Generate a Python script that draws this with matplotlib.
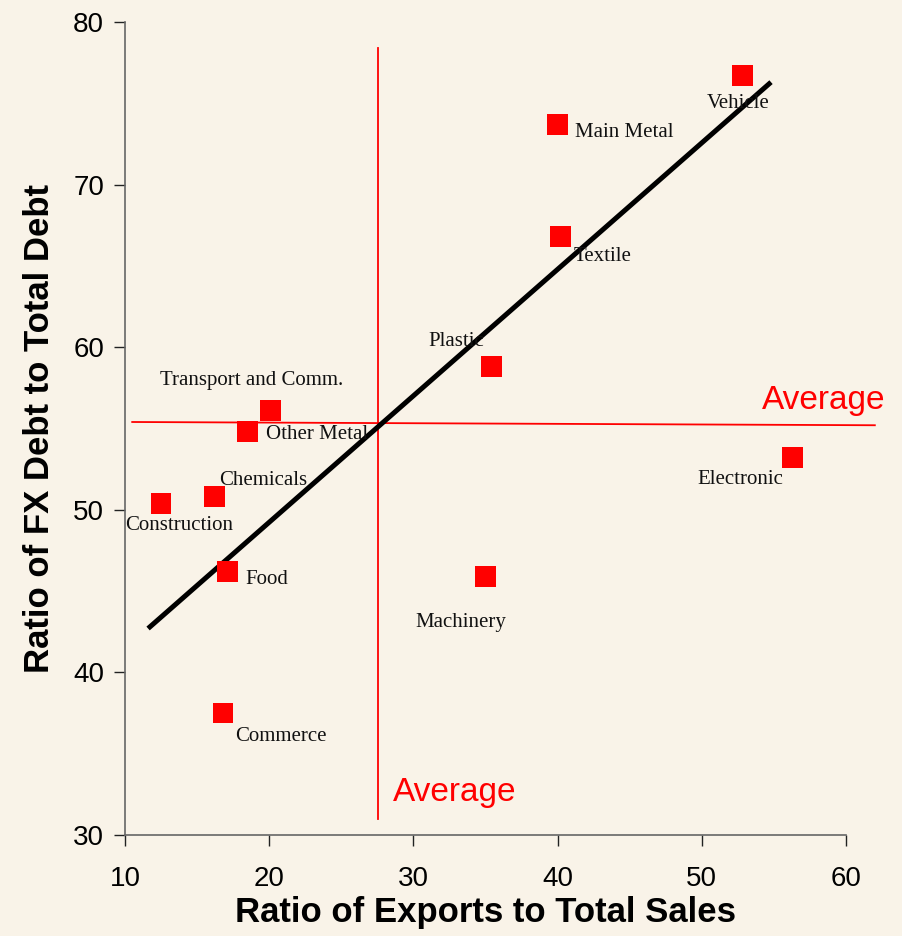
import matplotlib
matplotlib.use("Agg")
from matplotlib import pyplot as plt

# sector data
sectors = ['Vehicle', 'Main Metal', 'Textile', 'Plastic', 'Transport and Comm.',
           'Other Metal', 'Electronic', 'Chemicals', 'Construction', 'Food',
           'Machinery', 'Commerce']
export_ratio = [52.8, 40.0, 40.2, 35.4, 20.1, 18.5, 56.3, 16.2, 12.5, 17.1, 35.0, 16.8]
fx_debt_ratio = [76.7, 73.7, 66.8, 58.8, 56.1, 54.8, 53.2, 50.8, 50.4, 46.2, 45.9, 37.5]

# trend line end points
trend_x = [11.6, 54.8]
trend_y = [42.7, 76.3]

# averages
avg_h_x = [10.5, 62.0]
avg_h_y = [55.4, 55.2]
avg_v_x = [27.55, 27.55]
avg_v_y = [31.0, 78.4]

# label offsets in pixels (dx right, dy down) from each marker
label_offsets = [(-35, 28), (17, 8), (13, 20), (-63, -25), (-111, -30), (18, 3),
                 (-95, 22), (5, -16), (-36, 22), (18, 8), (-70, 46), (12, 23)]

sans = ['Liberation Sans', 'DejaVu Sans']

bg = '#f9f3e8'
fig = plt.figure(figsize=(9.02, 9.36), dpi=100, facecolor=bg)
ax = fig.add_axes([125/902, 101/936, 721/902, 813/936], facecolor=bg)

ax.plot(avg_h_x, avg_h_y, color='red', lw=1.3, clip_on=False, zorder=2)
ax.plot(avg_v_x, avg_v_y, color='red', lw=1.3, clip_on=False, zorder=2)
ax.plot(trend_x, trend_y, color='black', lw=3.6, solid_capstyle='butt', zorder=3)
ax.scatter(export_ratio, fx_debt_ratio, marker='s', s=225, color='red',
           edgecolors='none', zorder=4)

px = 72 / 100
for name, x, y, (dx, dy) in zip(sectors, export_ratio, fx_debt_ratio, label_offsets):
    ax.annotate(name, (x, y), xytext=(dx * px, -dy * px), textcoords='offset points',
                ha='left', va='center', fontsize=15, family='Liberation Serif',
                color='#111111', zorder=5)

ax.text(54.2, 56.75, 'Average', color='red', fontsize=24, family=sans, va='center', ha='left')
ax.text(28.6, 32.6, 'Average', color='red', fontsize=24, family=sans, va='center', ha='left')

ax.set_xlim(10, 60)
ax.set_ylim(30, 80)
ax.set_xticks([10, 20, 30, 40, 50, 60])
ax.set_yticks([30, 40, 50, 60, 70, 80])
for s in ['top', 'right']:
    ax.spines[s].set_visible(False)
for s in ['left', 'bottom']:
    ax.spines[s].set_color('#666666')
    ax.spines[s].set_linewidth(1.2)
ax.tick_params(direction='out', length=8, width=1.0, color='#222222', pad=7)
ax.tick_params(axis='x', pad=14)
for lab in ax.get_xticklabels() + ax.get_yticklabels():
    lab.set_family(sans)
    lab.set_fontsize(20)

ax.set_xlabel('Ratio of Exports to Total Sales', fontsize=25, fontweight='bold',
              family=sans, labelpad=3)
ax.set_ylabel('Ratio of FX Debt to Total Debt', fontsize=25, fontweight='bold',
              family=sans, labelpad=12)

fig.savefig('out.png', dpi=100, facecolor=bg)
